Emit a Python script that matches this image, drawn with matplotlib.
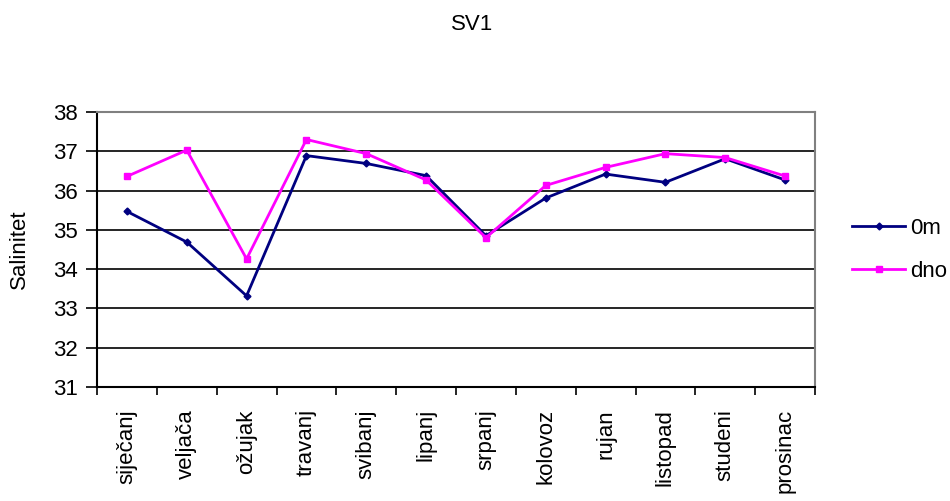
import matplotlib
matplotlib.use('Agg')
import matplotlib.pyplot as plt
import numpy as np

plt.rcParams['font.family'] = ['Liberation Sans', 'DejaVu Sans']

# Data
months = ['siječanj', 'veljača', 'ožujak', 'travanj', 'svibanj', 'lipanj',
          'srpanj', 'kolovoz', 'rujan', 'listopad', 'studeni', 'prosinac']
surface_0m = [35.47, 34.69, 33.32, 36.89, 36.69, 36.38,
              34.85, 35.81, 36.42, 36.21, 36.81, 36.27]
bottom_dno = [36.36, 37.03, 34.26, 37.30, 36.94, 36.27,
              34.80, 36.13, 36.59, 36.94, 36.84, 36.37]

FS = 16

fig = plt.figure(figsize=(9.5, 5.01), dpi=100)
ax = fig.add_axes([97 / 950, 1 - 387 / 501, (815 - 97) / 950, (387 - 112) / 501])

x = np.arange(len(months))
ax.plot(x, surface_0m, color='#000080', lw=2, marker='D', ms=3.5, label='0m')
ax.plot(x, bottom_dno, color='#FF00FF', lw=2, marker='s', ms=5, label='dno')

ax.set_xlim(-0.5, len(months) - 0.5)
ax.set_ylim(31, 38)
ax.set_yticks(range(31, 39))
ax.yaxis.grid(True, color='black', lw=1.2)
ax.set_axisbelow(True)

# category boundaries get the tick marks, labels sit in the middle
ax.set_xticks(np.arange(-0.5, len(months)), minor=False)
ax.set_xticklabels([])
ax.set_xticks(x, minor=True)
ax.set_xticklabels(months, minor=True, rotation=90, fontsize=FS)
ax.tick_params(axis='x', which='major', length=6, width=1.2, direction='out')
ax.tick_params(axis='x', which='minor', length=0, pad=16)
ax.tick_params(axis='y', length=8, width=1.2, labelsize=FS, pad=6)

for side in ['left', 'bottom']:
    ax.spines[side].set_color('black')
    ax.spines[side].set_linewidth(1.5)
for side in ['top', 'right']:
    ax.spines[side].set_color('#808080')
    ax.spines[side].set_linewidth(1.5)

ax.set_ylabel('Salinitet', fontsize=FS, labelpad=16)
fig.text(0.497, 1 - 24 / 501, 'SV1', ha='center', va='center', fontsize=FS)

fig.legend(loc='center left', bbox_to_anchor=(852 / 950, 1 - 250 / 501),
           frameon=False, fontsize=FS, handlelength=2.4, labelspacing=1.0,
           handletextpad=0.2, borderpad=0, borderaxespad=0)

fig.savefig('out.png', dpi=100)
